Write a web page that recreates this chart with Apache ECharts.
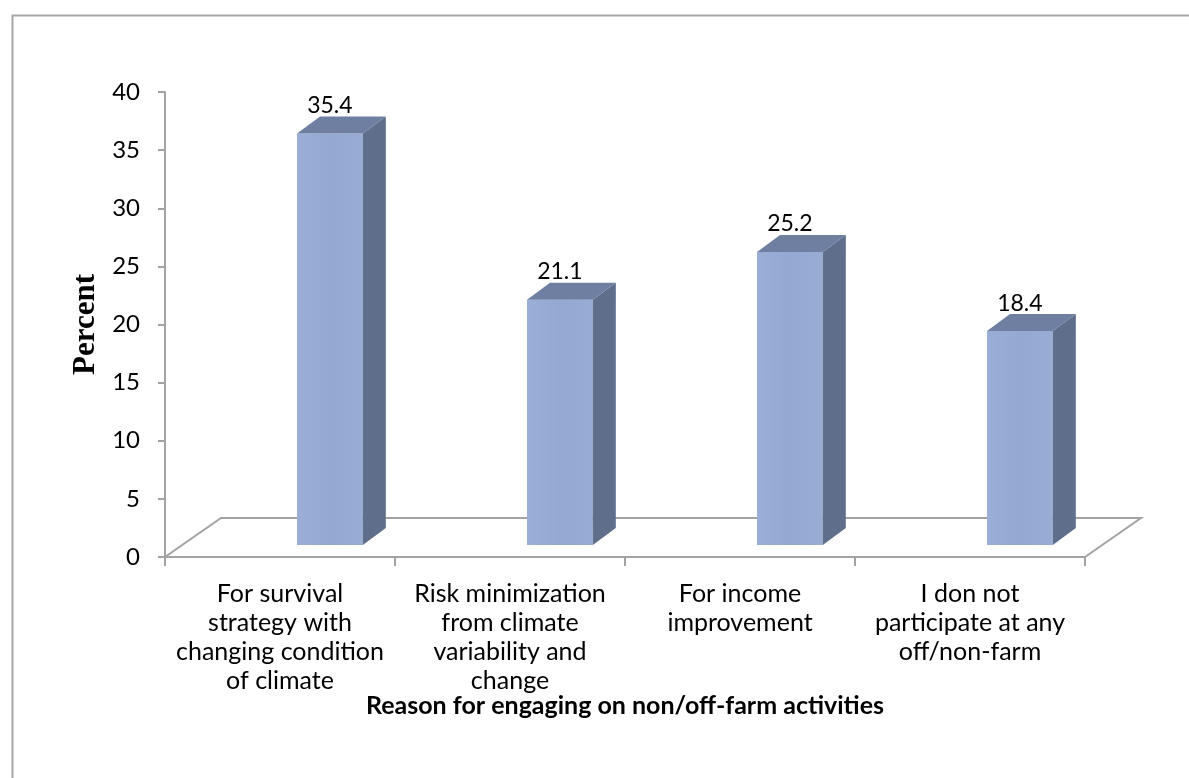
<!DOCTYPE html>
<html>
<head>
<meta charset="utf-8">
<title>Reason for engaging on non/off-farm activities</title>
<script src="https://cdn.jsdelivr.net/npm/echarts@6/dist/echarts.min.js"></script>
<style>
  html, body { margin: 0; padding: 0; background: #ffffff; }
  #chart { width: 1189px; height: 778px; }
</style>
</head>
<body>
<div id="chart"></div>
<script>
// Reasons given for engaging in non/off-farm activities (percent of respondents)
const categories = [
  'For survival\nstrategy with\nchanging condition\nof climate',
  'Risk minimization\nfrom climate\nvariability and\nchange',
  'For income\nimprovement',
  'I don not\nparticipate at any\noff/non-farm'
];
const percents = [35.4, 21.1, 25.2, 18.4];
const yTicks = [0, 5, 10, 15, 20, 25, 30, 35, 40];

const AXIS_GREY = '#a3a3a3';
const FONT = 'Lato, "Open Sans", sans-serif';

// 3D look: depth of the floor and of each bar, in pixels
const FLOOR_DX = 56, FLOOR_DY = -39;
const BAR_LIFT = 12;          // front face of a bar sits this far behind the front plane
const BAR_DX = 23, BAR_DY = -17;

const chart = echarts.init(document.getElementById('chart'), null, { renderer: 'canvas' });

function renderFloor(params, api) {
  const cs = params.coordSys;
  const x0 = cs.x, x1 = cs.x + cs.width, yb = cs.y + cs.height;
  return {
    type: 'polyline',
    z2: 0,
    shape: {
      points: [
        [x0, yb],
        [x0 + FLOOR_DX, yb + FLOOR_DY],
        [x1 + FLOOR_DX, yb + FLOOR_DY],
        [x1, yb]
      ]
    },
    style: { stroke: AXIS_GREY, lineWidth: 2, fill: null }
  };
}

function renderBar(params, api) {
  const cat = api.value(0);
  const val = api.value(1);
  const base = api.coord([cat, 0]);
  const top = api.coord([cat, val]);
  const band = api.size([1, 0])[0];
  const left = base[0] + band * 0.074;
  const right = base[0] + band * 0.36;
  const yTop = top[1] - BAR_LIFT;
  const yBot = base[1] - BAR_LIFT;
  return {
    type: 'group',
    children: [
      { // front face
        type: 'rect',
        shape: { x: left, y: yTop, width: right - left, height: yBot - yTop },
        style: {
          fill: new echarts.graphic.LinearGradient(0, 0, 1, 0, [
            { offset: 0, color: '#9aaed6' },
            { offset: 0.5, color: '#94a9d2' },
            { offset: 1, color: '#98acd4' }
          ])
        }
      },
      { // right side face
        type: 'polygon',
        shape: { points: [[right, yTop], [right + BAR_DX, yTop + BAR_DY], [right + BAR_DX, yBot + BAR_DY], [right, yBot]] },
        style: { fill: '#5f6e8b' }
      },
      { // top face
        type: 'polygon',
        shape: { points: [[left, yTop], [left + BAR_DX, yTop + BAR_DY], [right + BAR_DX, yTop + BAR_DY], [right, yTop]] },
        style: { fill: '#6f7fa1' }
      },
      { // value label
        type: 'text',
        style: {
          text: val.toFixed(1),
          x: (left + right) / 2,
          y: top[1] - BAR_LIFT - 28,
          align: 'center',
          verticalAlign: 'middle',
          font: '23px ' + FONT,
          fill: '#000000'
        }
      }
    ]
  };
}

const option = {
  backgroundColor: '#ffffff',
  animation: false,
  graphic: [{
    type: 'rect',
    left: 10, top: 13,
    shape: { width: 1200, height: 800 },
    style: { fill: null, stroke: '#a8a8a8', lineWidth: 2 },
    silent: true
  }],
  grid: { left: 165, top: 92, right: 104, bottom: 221, containLabel: false },
  xAxis: {
    type: 'category',
    data: categories,
    name: 'Reason for engaging on non/off-farm activities',
    nameLocation: 'middle',
    nameGap: 136,
    nameMoveOverlap: false,
    nameTextStyle: { fontFamily: FONT, fontWeight: 'bold', fontSize: 25, color: '#000000' },
    axisLine: { lineStyle: { color: AXIS_GREY, width: 2 } },
    axisTick: { show: true, length: 9, interval: 0, lineStyle: { color: AXIS_GREY, width: 2 } },
    axisLabel: {
      interval: 0, margin: 22, color: '#000000',
      fontFamily: FONT, fontSize: 25, lineHeight: 29, align: 'center'
    },
    splitLine: { show: false }
  },
  yAxis: {
    type: 'value',
    min: yTicks[0],
    max: yTicks[yTicks.length - 1],
    interval: yTicks[1] - yTicks[0],
    name: 'Percent',
    nameLocation: 'middle',
    nameRotate: 90,
    nameGap: 64,
    nameMoveOverlap: false,
    nameTextStyle: { fontFamily: '"Liberation Serif", "DejaVu Serif", serif', fontWeight: 'bold', fontSize: 31, color: '#000000' },
    axisLine: { show: true, lineStyle: { color: AXIS_GREY, width: 2 } },
    axisTick: { show: true, length: 7, lineStyle: { color: AXIS_GREY, width: 2 } },
    axisLabel: { margin: 25, color: '#000000', fontFamily: FONT, fontSize: 24 },
    splitLine: { show: false }
  },
  series: [
    {
      name: 'floor',
      type: 'custom',
      silent: true,
      z: 1,
      renderItem: renderFloor,
      data: [[0, 0]]
    },
    {
      name: 'Percent',
      type: 'custom',
      z: 3,
      renderItem: renderBar,
      encode: { x: 0, y: 1 },
      data: percents.map((v, i) => [i, v])
    }
  ]
};

chart.setOption(option);
</script>
</body>
</html>
